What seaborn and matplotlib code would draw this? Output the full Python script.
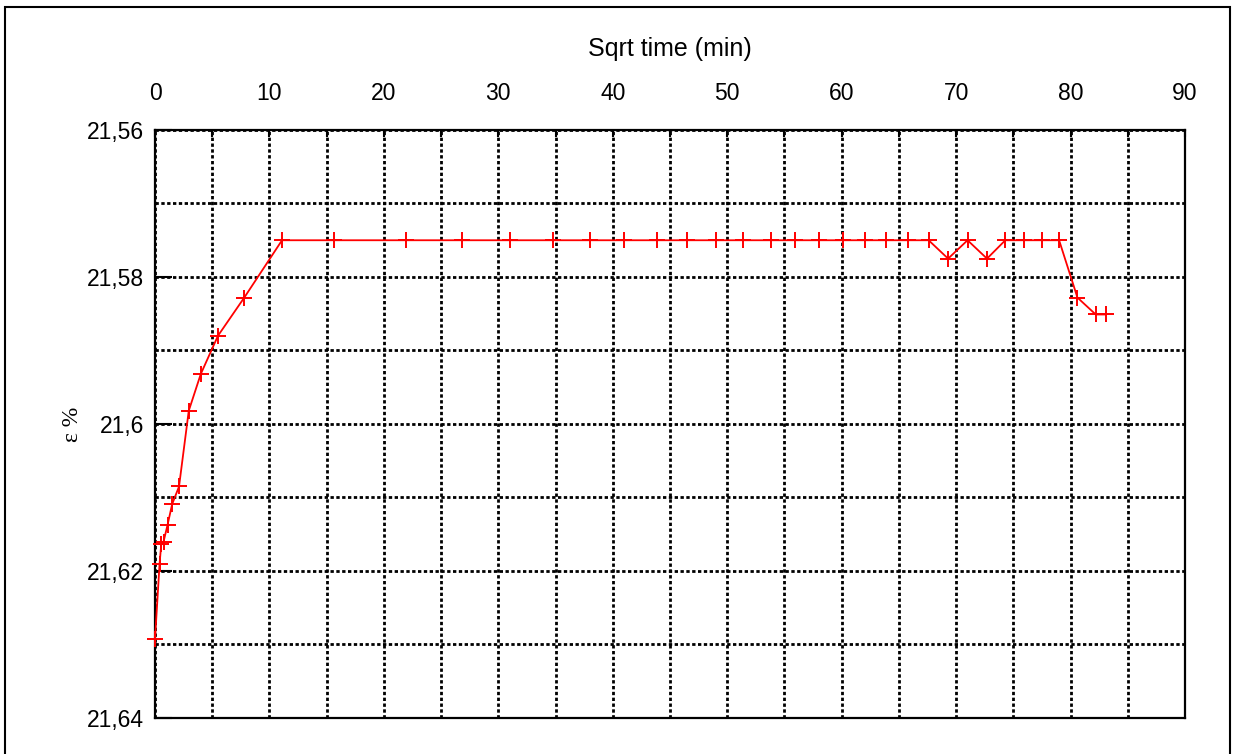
import matplotlib
matplotlib.use("Agg")
import matplotlib.pyplot as plt
from matplotlib.patches import Rectangle
from matplotlib.ticker import MultipleLocator, FixedLocator
import seaborn as sns
import pandas as pd

# Measured series: square-root of time (min) against strain (%)
sqrt_time = [0.0, 0.4, 0.55, 0.75, 1.1, 1.5, 2.1, 2.95, 4.0, 5.5, 7.8,
             11.1, 15.6, 21.9, 26.8, 31.0, 34.8, 38.0, 41.0, 43.9, 46.5,
             49.0, 51.4, 53.8, 55.9, 58.0, 60.1, 62.0, 63.9, 65.8, 67.6,
             69.3, 71.0, 72.7, 74.3, 75.9, 77.5, 79.0, 80.6, 82.2, 83.1]
strain = [21.6293, 21.6190, 21.6163, 21.6160, 21.6137, 21.6109, 21.6085,
          21.5982, 21.5932, 21.5880, 21.5828,
          21.575, 21.575, 21.575, 21.575, 21.575, 21.575, 21.575, 21.575,
          21.575, 21.575, 21.575, 21.575, 21.575, 21.575, 21.575, 21.575,
          21.575, 21.575, 21.575, 21.575,
          21.5775, 21.575, 21.5775, 21.575, 21.575, 21.575, 21.575,
          21.5828, 21.5851, 21.5851]

y_ticks = [21.56, 21.58, 21.60, 21.62, 21.64]
y_tick_labels = ["21,56", "21,58", "21,6", "21,62", "21,64"]
x_ticks = [0, 10, 20, 30, 40, 50, 60, 70, 80, 90]

df = pd.DataFrame({"t": sqrt_time, "eps": strain})

sns.set_style("white")
plt.rcParams["font.family"] = ["Liberation Sans", "DejaVu Sans"]
plt.rcParams["text.color"] = "black"
plt.rcParams["axes.labelcolor"] = "black"
plt.rcParams["xtick.color"] = "black"
plt.rcParams["ytick.color"] = "black"

fig = plt.figure(figsize=(12.33, 7.54), dpi=100)
ax = fig.add_axes([155 / 1233, 1 - 718 / 754, (1185 - 155) / 1233, (718 - 130) / 754])

sns.lineplot(data=df, x="t", y="eps", sort=False, ax=ax, color="red",
             linewidth=1.3, marker="+", markersize=12, markeredgewidth=1.4,
             markeredgecolor="red", clip_on=False, zorder=6)

ax.set_xlim(0, 90)
ax.set_ylim(21.64, 21.56)

# top x axis
ax.xaxis.tick_top()
ax.xaxis.set_label_position("top")
ax.xaxis.set_major_locator(FixedLocator(x_ticks))
ax.xaxis.set_minor_locator(MultipleLocator(5))
ax.set_xticklabels([str(v) for v in x_ticks])
ax.set_xlabel("Sqrt time (min)", fontsize=18, labelpad=19)

ax.yaxis.set_major_locator(FixedLocator(y_ticks))
ax.set_yticklabels(y_tick_labels)
ax.yaxis.set_minor_locator(MultipleLocator(0.01))
ax.set_ylabel("ε %", fontsize=17, family=["Liberation Serif", "DejaVu Serif"],
              labelpad=3)

ax.tick_params(axis="x", which="both", direction="in", top=True, bottom=False,
               length=5, width=1.5, labelsize=16.5, pad=18)
ax.tick_params(axis="y", which="major", direction="in", left=True, right=False,
               length=12, width=1.5, labelsize=16.5, pad=8)
ax.tick_params(axis="y", which="minor", length=0)

ax.grid(True, which="both", color="black", linewidth=2.0,
        linestyle=(0, (1.2, 0.9)))

for s in ax.spines.values():
    s.set_visible(True)
    s.set_color("black")
    s.set_linewidth(1.6)
    s.set_zorder(5)

# outer frame around the figure
fig.patches.append(Rectangle((5 / 1233, -0.05), (1230 - 5) / 1233, 1.05 - 7 / 754,
                             transform=fig.transFigure, fill=False,
                             edgecolor="black", linewidth=1.5))

fig.savefig("out.png", dpi=100)
